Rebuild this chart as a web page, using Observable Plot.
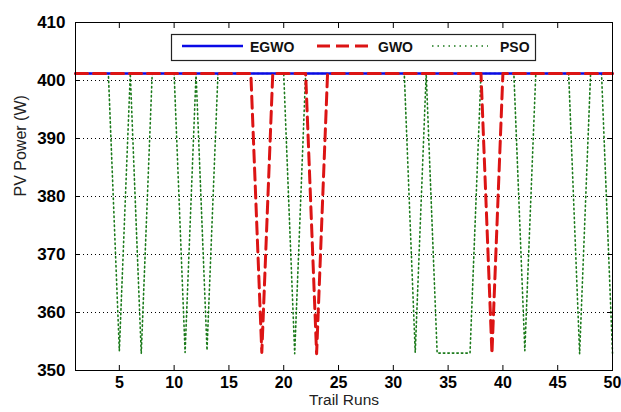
<!DOCTYPE html>
<html>
<head>
<meta charset="utf-8">
<script src="https://cdn.jsdelivr.net/npm/d3@7"></script>
<script src="https://cdn.jsdelivr.net/npm/@observablehq/plot@0.6"></script>
<style>
  html, body { margin: 0; padding: 0; background: #fff; }
  #wrap { position: relative; width: 621px; height: 412px; font-family: "Liberation Sans", Arial, sans-serif; }
  #legend { position: absolute; left: 0; top: 0; pointer-events: none; }
</style>
</head>
<body>
<div id="wrap"></div>
<script>
// ---- data ----
const runs = [1,2,3,4,5,6,7,8,9,10,11,12,13,14,15,16,17,18,19,20,21,22,23,24,25,26,27,28,29,30,31,32,33,34,35,36,37,38,39,40,41,42,43,44,45,46,47,48,49,50];
const egwo = [401.2,401.2,401.2,401.2,401.2,401.2,401.2,401.2,401.2,401.2,401.2,401.2,401.2,401.2,401.2,401.2,401.2,401.2,401.2,401.2,401.2,401.2,401.2,401.2,401.2,401.2,401.2,401.2,401.2,401.2,401.2,401.2,401.2,401.2,401.2,401.2,401.2,401.2,401.2,401.2,401.2,401.2,401.2,401.2,401.2,401.2,401.2,401.2,401.2,401.2];
const gwo  = [401.2,401.2,401.2,401.2,401.2,401.2,401.2,401.2,401.2,401.2,401.2,401.2,401.2,401.2,401.2,401.2,401.2,353.1,401.2,401.2,401.2,401.2,352.9,401.2,401.2,401.2,401.2,401.2,401.2,401.2,401.2,401.2,401.2,401.2,401.2,401.2,401.2,401.2,352.9,401.2,401.2,401.2,401.2,401.2,401.2,401.2,401.2,401.2,401.2,401.2];
const pso  = [401.2,401.2,401.2,401.2,353.4,401.2,352.9,401.2,401.2,401.2,353.1,401.2,353.5,401.2,401.2,401.2,401.2,401.2,401.2,401.2,352.9,401.2,401.2,401.2,401.2,401.2,401.2,401.2,401.2,401.2,401.2,353.1,401.2,353.0,353.0,353.0,353.0,401.2,401.2,401.2,401.2,353.4,401.2,401.2,401.2,401.2,352.9,401.2,401.2,353.0];
const seriesNames = ["EGWO", "GWO", "PSO"];
const xTicks = [5,10,15,20,25,30,35,40,45,50];
const yTicks = [350,360,370,380,390,400,410];
const yGrid = [360,370,380,390,400];
const xLabel = "Trail Runs";
const yLabel = "PV Power (W)";

const table = runs.map((r, i) => ({run: r, egwo: egwo[i], gwo: gwo[i], pso: pso[i]}));

const colors = {EGWO: "#0a0ae6", GWO: "#dc1414", PSO: "#1b7a1b"};
const font = "'Liberation Sans', Arial, sans-serif";

const chart = Plot.plot({
  width: 621,
  height: 412,
  marginLeft: 75,
  marginRight: 9,
  marginTop: 22,
  marginBottom: 42,
  style: {fontFamily: font, background: "#fff"},
  x: {domain: [1, 50]},
  y: {domain: [350, 410]},
  marks: [
    Plot.gridY(yGrid, {stroke: "#000", strokeOpacity: 1, strokeDasharray: "1,3"}),
    Plot.lineY(table, {x: "run", y: "pso", stroke: colors.PSO, strokeWidth: 1.6, strokeDasharray: "1.5,3"}),
    Plot.lineY(table, {x: "run", y: "egwo", stroke: colors.EGWO, strokeWidth: 2.6}),
    Plot.lineY(table, {x: "run", y: "gwo", stroke: colors.GWO, strokeWidth: 3, strokeDasharray: "12,6"}),
    Plot.frame({stroke: "#000", strokeWidth: 1}),
    Plot.axisX(xTicks, {anchor: "bottom", tickSize: 0, tickPadding: 6, fontSize: 16, fontWeight: "bold", label: null}),
    Plot.axisX(xTicks, {anchor: "bottom", tickSize: -5, text: null, label: null}),
    Plot.axisX(xTicks, {anchor: "top", tickSize: -5, text: null, label: null}),
    Plot.axisY(yTicks, {anchor: "left", tickSize: 0, tickPadding: 10, fontSize: 17, fontWeight: "bold", label: null}),
    Plot.axisY(yTicks, {anchor: "left", tickSize: -5, text: null, label: null}),
    Plot.axisY(yTicks, {anchor: "right", tickSize: -5, text: null, label: null}),
    Plot.text([xLabel], {text: d => d, frameAnchor: "bottom", dy: 34, fontSize: 15.5, fill: "#222"}),
    Plot.text([yLabel], {text: d => d, frameAnchor: "left", rotate: -90, dx: -55, fontSize: 16, fill: "#222"})
  ]
});

const wrap = document.getElementById("wrap");
wrap.appendChild(chart);

// ---- legend overlay ----
const leg = d3.select(wrap).append("svg")
  .attr("id", "legend").attr("width", 621).attr("height", 412);
leg.append("rect").attr("x", 171.5).attr("y", 34.5).attr("width", 364).attr("height", 26)
  .attr("fill", "#fff").attr("stroke", "#222").attr("stroke-width", 1.2);
const items = [
  {name: seriesNames[0], x1: 182, x2: 243, tx: 250, stroke: colors.EGWO, w: 2.6, dash: null},
  {name: seriesNames[1], x1: 317, x2: 369, tx: 378, stroke: colors.GWO, w: 3, dash: "13,6"},
  {name: seriesNames[2], x1: 432, x2: 488, tx: 500, stroke: colors.PSO, w: 1.6, dash: "1.5,4"}
];
for (const it of items) {
  leg.append("line").attr("x1", it.x1).attr("x2", it.x2).attr("y1", 46).attr("y2", 46)
    .attr("stroke", it.stroke).attr("stroke-width", it.w).attr("stroke-dasharray", it.dash);
  leg.append("text").attr("x", it.tx).attr("y", 51.5).text(it.name)
    .attr("font-family", font).attr("font-size", 14).attr("font-weight", "bold").attr("fill", "#111");
}
</script>
</body>
</html>
